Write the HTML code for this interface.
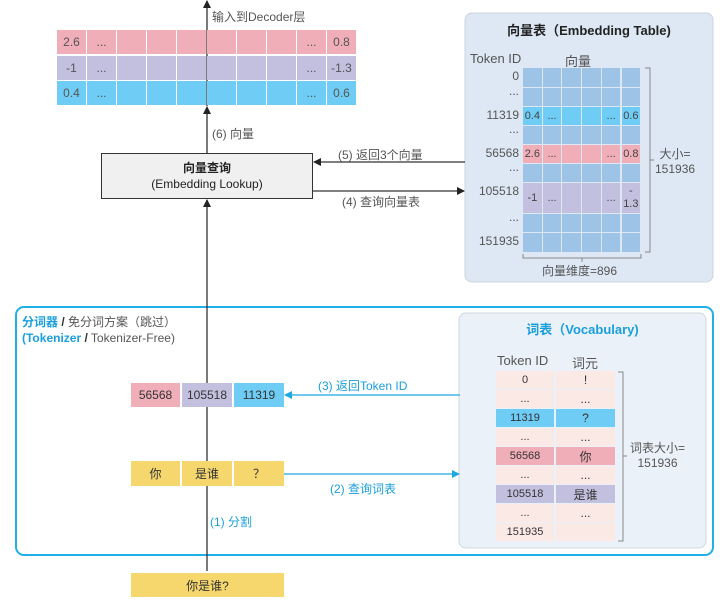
<!DOCTYPE html>
<html><head><meta charset="utf-8"><style>
*{margin:0;padding:0;box-sizing:border-box}
body{width:720px;height:605px;background:#fff;position:relative;overflow:hidden;font-family:"Liberation Sans","Noto Sans CJK SC",sans-serif;color:#555;font-size:12px}
.a{position:absolute}
.c{position:absolute;display:flex;align-items:center;justify-content:center}
</style></head><body>
<svg class="a" style="left:0;top:0" width="720" height="605">
<defs>
<marker id="k" markerWidth="8" markerHeight="8" refX="7" refY="4" orient="auto" markerUnits="userSpaceOnUse"><path d="M0,0L8,4L0,8z" fill="#222"/></marker>
<marker id="b" markerWidth="8" markerHeight="8" refX="7" refY="4" orient="auto" markerUnits="userSpaceOnUse"><path d="M0,0L8,4L0,8z" fill="#1fa8e0"/></marker>
</defs>
<rect x="465" y="13" width="248" height="269" rx="7" fill="#dde8f4" stroke="#ccd3dc"/>
<rect x="16" y="307" width="697" height="248" rx="8" fill="none" stroke="#1fb0e8" stroke-width="2"/>
<rect x="459" y="313" width="247" height="235" rx="7" fill="#eaf1f9" stroke="#cfd6de"/>
<line x1="207" y1="106" x2="207" y2="1" stroke="#333" stroke-width="1.3" marker-end="url(#k)"/>
<line x1="207" y1="153" x2="207" y2="107" stroke="#333" stroke-width="1.3" marker-end="url(#k)"/>
<line x1="207" y1="571" x2="207" y2="200" stroke="#333" stroke-width="1.3" marker-end="url(#k)"/>
<line x1="465" y1="162" x2="314" y2="162" stroke="#333" stroke-width="1.3" marker-end="url(#k)"/>
<line x1="313" y1="191" x2="464" y2="191" stroke="#333" stroke-width="1.3" marker-end="url(#k)"/>
<line x1="460" y1="395" x2="285" y2="395" stroke="#1fa8e0" stroke-width="1.3" marker-end="url(#b)"/>
<line x1="284" y1="474" x2="459" y2="474" stroke="#1fa8e0" stroke-width="1.3" marker-end="url(#b)"/>
<path d="M645,68h5v184h-5M650,160h4" fill="none" stroke="#888"/>
<path d="M523,254v4h118v-4M582,258v4" fill="none" stroke="#888"/>
<path d="M618,372h5v169h-5M623,456h4" fill="none" stroke="#888"/>
</svg>
<div id="top"></div>
<div class="a" style="left:212px;top:8px;font-size:12px">输入到Decoder层</div>
<div class="a" style="left:212px;top:125px">(6) 向量</div>
<div class="c" style="left:101px;top:153px;width:212px;height:46px;background:#f0f0f0;border:1.5px solid #333;flex-direction:column;color:#222;font-size:12px;line-height:16px"><b>向量查询</b><span>(Embedding Lookup)</span></div>
<div class="a" style="left:338px;top:146px">(5) 返回3个向量</div>
<div class="a" style="left:342px;top:193px">(4) 查询向量表</div>
<div class="a" style="left:465px;top:20px;width:248px;text-align:center;font-weight:bold;color:#222;font-size:13px">向量表（Embedding Table)</div>
<div class="a" style="left:470px;top:51px;font-size:13px">Token ID</div>
<div class="a" style="left:565px;top:51px;font-size:13px">向量</div>
<div class="a" style="left:655px;top:147px;text-align:center;line-height:15px">大小=<br>151936</div>
<div class="a" style="left:542px;top:262px">向量维度=896</div>
<div class="a" style="left:22px;top:314px;line-height:16px;font-size:12px"><b style="color:#1a9fdc">分词器</b> <b style="color:#333">/</b> 免分词方案（跳过）<br><b style="color:#1a9fdc">(Tokenizer</b> <b style="color:#333">/</b> Tokenizer-Free)</div>
<div class="a" style="left:318px;top:377px;color:#1a9fdc">(3) 返回Token ID</div>
<div class="a" style="left:330px;top:480px;color:#1a9fdc">(2) 查询词表</div>
<div class="a" style="left:210px;top:513px;color:#1a9fdc">(1) 分割</div>
<div class="c" style="left:131px;top:383px;width:49px;height:24px;background:#f0aeb8;color:#333">56568</div>
<div class="c" style="left:182px;top:383px;width:50px;height:24px;background:#c2c0de;color:#333">105518</div>
<div class="c" style="left:234px;top:383px;width:50px;height:24px;background:#6fcdf5;color:#333">11319</div>
<div class="c" style="left:131px;top:461px;width:49px;height:25px;background:#f5d76e;color:#333">你</div>
<div class="c" style="left:182px;top:461px;width:50px;height:25px;background:#f5d76e;color:#333">是谁</div>
<div class="c" style="left:234px;top:461px;width:50px;height:25px;background:#f5d76e;color:#333">？</div>
<div class="c" style="left:131px;top:573px;width:153px;height:24px;background:#f5d76e;color:#333">你是谁?</div>
<div class="a" style="left:459px;top:319px;width:247px;text-align:center;font-weight:bold;color:#1a9fdc;font-size:13px">词表（Vocabulary)</div>
<div class="a" style="left:497px;top:353px;font-size:13px">Token ID</div>
<div class="a" style="left:572px;top:353px;font-size:13px">词元</div>
<div class="a" style="left:630px;top:441px;text-align:center;line-height:15px">词表大小=<br>151936</div>
<div id="gen"></div>
<script>
var h='';
// top vectors
var rows=[[30,'#f0aeb8','2.6','0.8'],[56,'#c2c0de','-1','-1.3'],[81,'#6fcdf5','0.4','0.6']];
rows.forEach(function(r){for(var i=0;i<10;i++){var t=i==0?r[2]:i==9?r[3]:(i==1||i==8)?'...':'';h+='<div class="c" style="left:'+(57+i*30)+'px;top:'+r[0]+'px;width:29px;height:24px;background:'+r[1]+'">'+t+'</div>';}});
// embedding grid
var er=[[68,19,'0','#9dc3e6'],[88,18,'...','#9dc3e6'],[107,18,'11319','#6fcdf5',['0.4','...','','','...','0.6']],[126,18,'...','#9dc3e6'],[145,18,'56568','#f0aeb8',['2.6','...','','','...','0.8']],[164,18,'...','#9dc3e6'],[183,30,'105518','#c2c0de',['-1','...','','','...','-<br>1.3']],[214,18,'...','#9dc3e6'],[233,19,'151935','#9dc3e6']];
er.forEach(function(r){h+='<div class="a" style="left:465px;top:'+(r[0]+(r[2]=='...'?-4:1))+'px;width:54px;text-align:right">'+r[2]+'</div>';
for(var i=0;i<6;i++){var t=r[4]?r[4][i]:'';h+='<div class="c" style="left:'+(523+i*19.7)+'px;top:'+r[0]+'px;width:18.7px;height:'+r[1]+'px;background:'+r[3]+';color:#444;font-size:11px;line-height:13px;text-align:center">'+t+'</div>';}});
// vocab
var vr=[['0','!','#fbe9e6'],['...','...','#fbe9e6'],['11319','?','#6fcdf5'],['...','...','#fbe9e6'],['56568','你','#f0aeb8'],['...','...','#fbe9e6'],['105518','是谁','#c2c0de'],['...','...','#fbe9e6'],['151935','','#fbe9e6']];
vr.forEach(function(r,j){var y=371+j*19;h+='<div class="c" style="left:496px;top:'+y+'px;width:58px;height:18px;background:'+r[2]+';color:#333;font-size:11px">'+r[0]+'</div><div class="c" style="left:556px;top:'+y+'px;width:59px;height:18px;background:'+r[2]+';color:#333;font-size:12px">'+r[1]+'</div>';});
document.getElementById('gen').innerHTML=h;
</script>
</body></html>
